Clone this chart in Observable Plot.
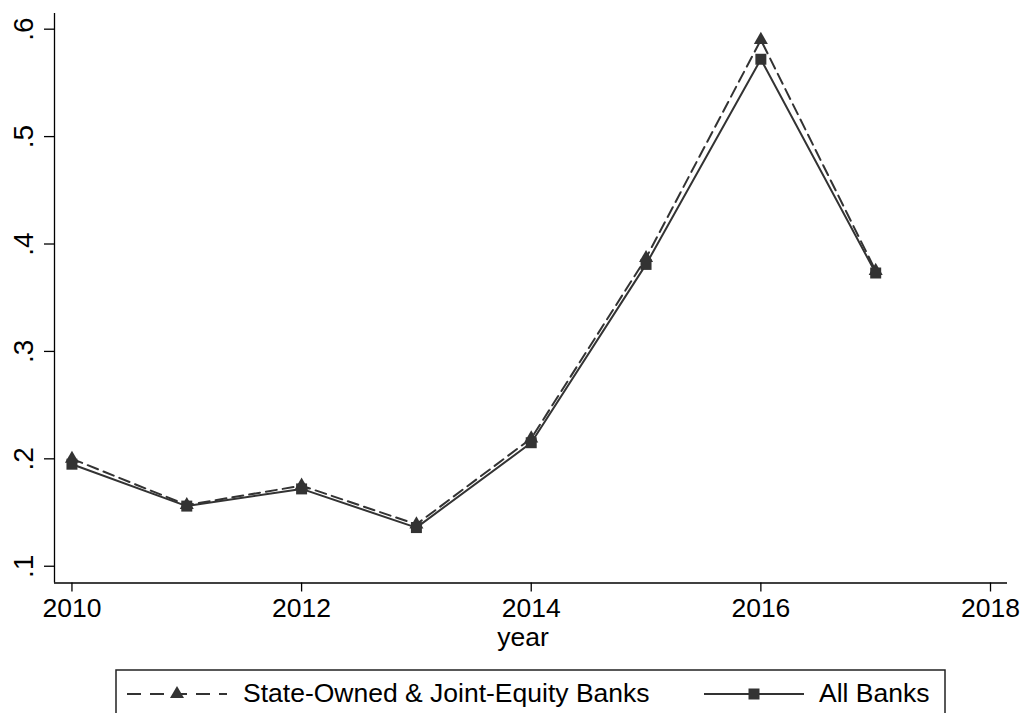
<!DOCTYPE html>
<html>
<head>
<meta charset="utf-8">
<script src="https://cdn.jsdelivr.net/npm/d3@7"></script>
<script src="https://cdn.jsdelivr.net/npm/@observablehq/plot@0.6"></script>
<style>
  body { margin: 0; background: #fff; }
  #chart svg { display: block; }
</style>
</head>
<body>
<div id="chart"></div>
<script>
// Share of loans, by year
const years = [2010, 2011, 2012, 2013, 2014, 2015, 2016, 2017];
const stateOwned = [0.200, 0.157, 0.175, 0.139, 0.219, 0.387, 0.590, 0.375];
const allBanks = [0.195, 0.156, 0.172, 0.136, 0.215, 0.381, 0.572, 0.373];
const seriesNames = ["State-Owned & Joint-Equity Banks", "All Banks"];
const xTicks = [2010, 2012, 2014, 2016, 2018];
const yTicks = [0.1, 0.2, 0.3, 0.4, 0.5, 0.6];
const yTickLabels = [".1", ".2", ".3", ".4", ".5", ".6"];
const xLabel = "year";

const rows = years.map((year, i) => ({year, state: stateOwned[i], all: allBanks[i]}));

const ink = "#333";
const font = "'Liberation Sans', Arial, Helvetica, sans-serif";
const xDomain = [2009.848, 2018.148];
const yDomain = [0.0844, 0.6146];

const chart = Plot.plot({
  width: 1022,
  height: 660,
  marginLeft: 54,
  marginRight: 15,
  marginTop: 13,
  marginBottom: 77.5,
  x: {domain: xDomain},
  y: {domain: yDomain},
  style: {fontFamily: font, fontSize: "26.5px", color: "#000", background: "#fff"},
  marks: [
    Plot.axisX({ticks: xTicks, tickFormat: d => String(d), tickSize: 9, tickPadding: 6, label: null, strokeWidth: 1.3}),
    Plot.axisY({ticks: yTicks, tickFormat: () => "", tickSize: 10, label: null, strokeWidth: 1.3}),
    Plot.text(yTicks, {
      y: d => d, text: (d, i) => yTickLabels[i],
      frameAnchor: "left", dx: -21.5, rotate: -90,
      textAnchor: "middle", lineAnchor: "bottom", fill: "#000", fontSize: 28
    }),
    Plot.ruleX([xDomain[0]], {stroke: "#000", strokeWidth: 1.3}),
    Plot.ruleY([yDomain[0]], {stroke: "#000", strokeWidth: 1.3}),
    Plot.line(rows, {x: "year", y: "state", stroke: ink, strokeWidth: 2, strokeDasharray: "11,6"}),
    Plot.dot(rows, {x: "year", y: "state", symbol: "triangle", r: 5.2, fill: ink, stroke: "none"}),
    Plot.line(rows, {x: "year", y: "all", stroke: ink, strokeWidth: 2}),
    Plot.dot(rows, {x: "year", y: "all", symbol: "square", r: 6.2, fill: ink, stroke: "none"}),
    Plot.text([xLabel], {
      text: d => d, frameAnchor: "bottom", dx: -8, dy: 63,
      lineAnchor: "bottom", fill: "#000", fontSize: 26.5
    })
  ]
});
document.getElementById("chart").append(chart);

// Legend box below the plot
const legend = d3.select("#chart").append("svg")
  .attr("width", 1022).attr("height", 53)
  .style("font-family", font);
legend.append("rect")
  .attr("x", 116).attr("y", 10).attr("width", 829).attr("height", 70)
  .attr("fill", "none").attr("stroke", "#222").attr("stroke-width", 1.5);

const ly = 34;
legend.append("line")
  .attr("x1", 127).attr("x2", 227).attr("y1", ly).attr("y2", ly)
  .attr("stroke", ink).attr("stroke-width", 2).attr("stroke-dasharray", "14,9");
legend.append("path")
  .attr("transform", `translate(177,${ly})`)
  .attr("d", d3.symbol(d3.symbolTriangle, 85)())
  .attr("fill", ink);
legend.append("text")
  .attr("x", 243).attr("y", 42).attr("font-size", 26.5).attr("fill", "#000")
  .text(seriesNames[0]);

legend.append("line")
  .attr("x1", 704).attr("x2", 804).attr("y1", ly).attr("y2", ly)
  .attr("stroke", ink).attr("stroke-width", 2);
legend.append("path")
  .attr("transform", `translate(754,${ly})`)
  .attr("d", d3.symbol(d3.symbolSquare, 121)())
  .attr("fill", ink);
legend.append("text")
  .attr("x", 819).attr("y", 42).attr("font-size", 26.5).attr("fill", "#000")
  .text(seriesNames[1]);
</script>
</body>
</html>
